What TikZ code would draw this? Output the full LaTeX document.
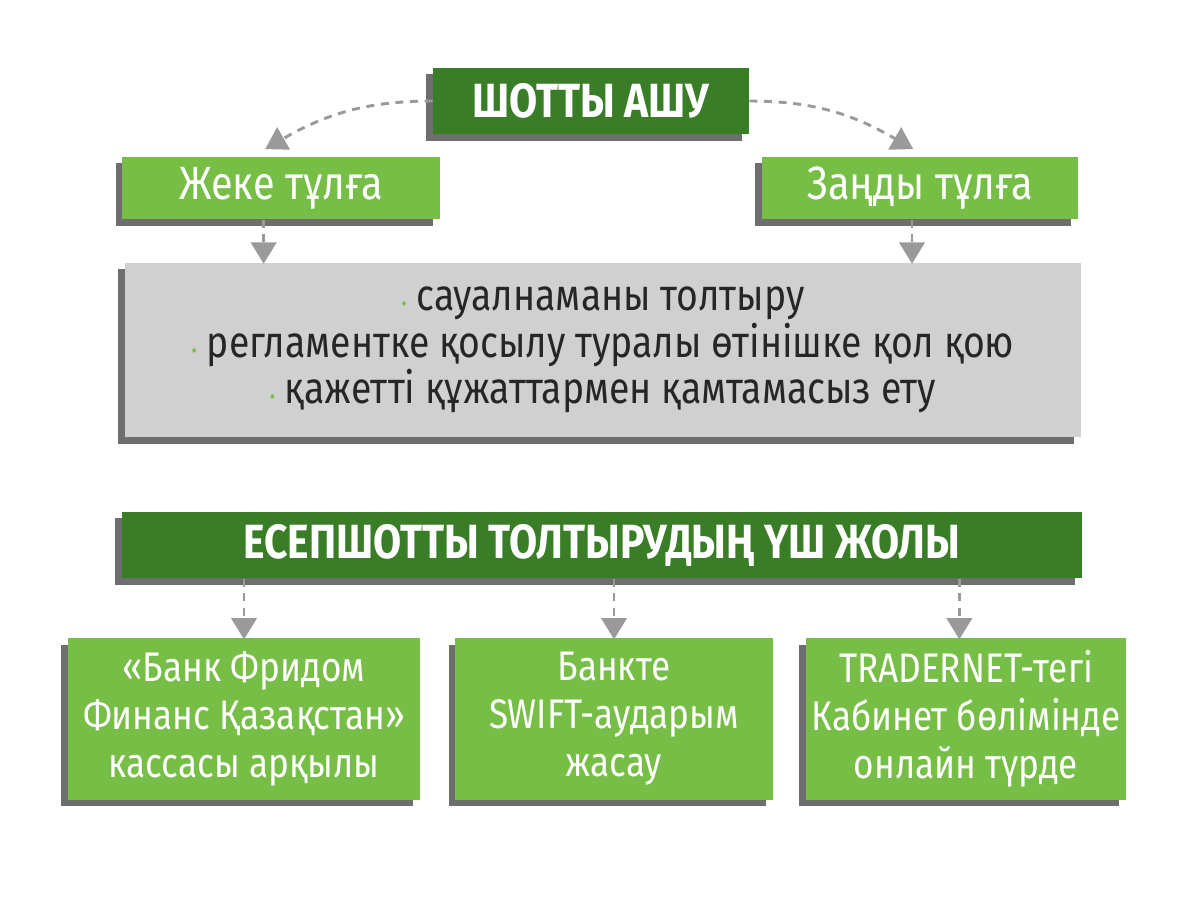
\documentclass[tikz,border=0pt]{standalone}
\usepackage{fontspec}
\setmainfont{Fira Sans}[FakeStretch=0.85]
\usetikzlibrary{arrows.meta,shadows}
\definecolor{dg}{HTML}{3A7D27}
\definecolor{lg}{HTML}{76BE45}
\definecolor{gb}{HTML}{D0D0D0}
\definecolor{sh}{HTML}{6E6E6E}
\definecolor{ar}{HTML}{9A9A9A}
\tikzset{
 bx/.style={minimum width=#1, inner sep=0pt, align=center,
   drop shadow={shadow xshift=-5pt, shadow yshift=-5pt, fill=sh, opacity=1}},
 conn/.style={draw=ar, line width=2.2pt, dash pattern=on 6pt off 5pt,
   -{Triangle[width=19pt,length=16pt,fill=ar]}, shorten >=-1pt},
 ttl/.style={text=white, font=\bfseries\fontsize{36}{42}\selectfont},
 bd/.style={font=\fontsize{31}{36}\selectfont}
}
\begin{document}
\begin{tikzpicture}[x=0.75pt,y=-0.75pt]
\useasboundingbox (0,0) rectangle (1200,900);
\node[bx=237pt, minimum height=50pt, fill=dg, ttl] (top) at (591,101) {ШОТТЫ АШУ};
\node[bx=238pt, minimum height=47pt, fill=lg, text=white, font=\fontsize{35}{40}\selectfont] (jk) at (281,188) {Жеке тұлға};
\node[bx=237pt, minimum height=47pt, fill=lg, text=white, font=\fontsize{35}{40}\selectfont] (zn) at (920,188) {Заңды тұлға};
\node[bx=717pt, minimum height=131pt, fill=gb, font=\fontsize{33}{36}\selectfont, text=black!85] (gr) at (603,350) {%
 {\color{lg}\Large•} сауалнаманы толтыру\\[-1pt]
 {\color{lg}\Large•} регламентке қосылу туралы өтінішке қол қою\\[-1pt]
 {\color{lg}\Large•} қажетті құжаттармен қамтамасыз ету};
\node[bx=720pt, minimum height=50pt, fill=dg, ttl] (mid) at (602,545) {ЕСЕПШОТТЫ ТОЛТЫРУДЫҢ ҮШ ЖОЛЫ};
\node[bx=264pt, minimum height=121pt, fill=lg, text=white, bd] (b1) at (244,719) {«Банк Фридом\\Финанс Қазақстан»\\кассасы арқылы};
\node[bx=238pt, minimum height=121pt, fill=lg, text=white, bd] (b2) at (614,719) {Банкте\\SWIFT-аударым\\жасау};
\node[bx=240pt, minimum height=121pt, fill=lg, text=white, bd] (b3) at (966,719) {TRADERNET-тегі\\Кабинет бөлімінде\\онлайн түрде};
\draw[conn] (top.west) to[out=180,in=30] ([xshift=-11pt,yshift=6pt]jk.north);
\draw[conn] (top.east) to[out=0,in=150] ([xshift=-6pt,yshift=6pt]zn.north);
\draw[conn] ([xshift=-13pt]jk.south) -- ([xshift=-13pt]jk.south |- gr.north);
\draw[conn] ([xshift=-6pt]zn.south) -- ([xshift=-6pt]zn.south |- gr.north);
\draw[conn] (mid.south -| b1) -- (b1.north);
\draw[conn] (mid.south -| b2) -- (b2.north);
\draw[conn] ([xshift=-5pt]mid.south -| b3) -- ([xshift=-5pt]b3.north);
\end{tikzpicture}
\end{document}
